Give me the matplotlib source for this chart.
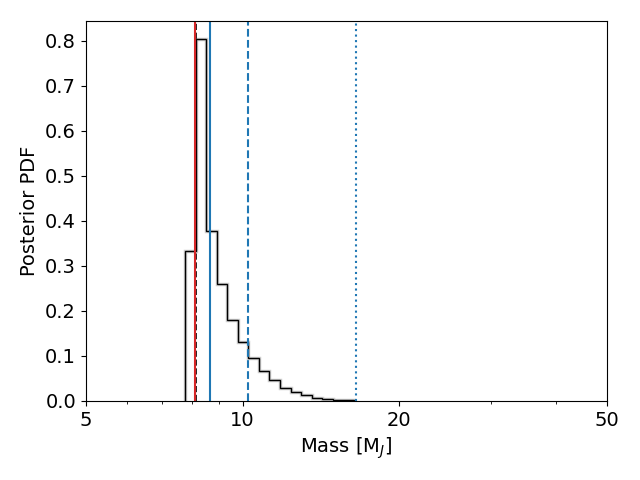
import matplotlib
matplotlib.use("Agg")
import matplotlib.pyplot as plt
from matplotlib.ticker import FixedLocator, FixedFormatter, NullFormatter

# Histogram bin edges (Mass in M_J) and posterior PDF heights
bin_edges = [7.761, 8.131, 8.518, 8.924, 9.349, 9.794, 10.261, 10.749, 11.261,
             11.798, 12.360, 12.948, 13.565, 14.211, 14.888, 15.597, 16.340]
pdf_values = [0.334, 0.804, 0.378, 0.260, 0.180, 0.130, 0.095, 0.066, 0.046,
              0.028, 0.019, 0.012, 0.0065, 0.003, 0.0015, 0.0007]

# Reference vertical lines
red_line = 8.09
black_dashed = 8.13
blue_solid = 8.65
blue_dashed = 10.22
blue_dotted = 16.54

xticks = [5, 10, 20, 50]
xtick_labels = ["5", "10", "20", "50"]

plt.rcParams['font.size'] = 14
fig, ax = plt.subplots(figsize=(6.4, 4.8), dpi=100)

ax.stairs(pdf_values, bin_edges, color='0.8', lw=2.5, baseline=0)
ax.stairs(pdf_values, bin_edges, color='black', lw=1.0, baseline=0)

ax.axvline(black_dashed, color='black', ls='--', lw=1.2)
ax.axvline(red_line, color='tab:red', lw=1.5)
ax.axvline(blue_solid, color='tab:blue', lw=1.5)
ax.axvline(blue_dashed, color='tab:blue', ls='--', lw=1.5)
ax.axvline(blue_dotted, color='tab:blue', ls=':', lw=1.5)

ax.set_xscale('log')
ax.set_xlim(5, 50)
ax.set_ylim(0, 0.844)
ax.xaxis.set_major_locator(FixedLocator(xticks))
ax.xaxis.set_major_formatter(FixedFormatter(xtick_labels))
ax.xaxis.set_minor_formatter(NullFormatter())
ax.set_xlabel(r'Mass [M$_J$]')
ax.set_ylabel('Posterior PDF')

fig.subplots_adjust(left=0.134, right=0.948, top=0.956, bottom=0.165)
fig.savefig('out.png', dpi=100)
